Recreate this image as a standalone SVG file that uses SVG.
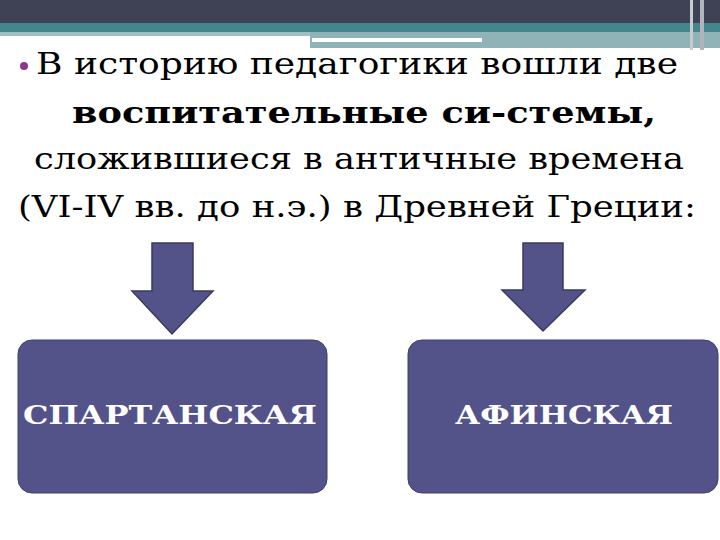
<svg xmlns="http://www.w3.org/2000/svg" width="720" height="540" viewBox="0 0 720 540">
<style>
.box{fill:#53538a;stroke:#3e3e70;stroke-width:1}
.arr{fill:#53538a;stroke:#3a3a60;stroke-width:1.5}
</style>
<rect width="720" height="540" fill="#fff"/>
<g id="header">
<rect x="0" y="0" width="720" height="23" fill="#3f4254"/>
<rect x="0" y="23" width="720" height="9" fill="#45868d"/>
<rect x="0" y="32" width="310" height="4" fill="#9fbfc2"/>
<rect x="310" y="32" width="410" height="16" fill="#8fb3b6"/>
<rect x="312" y="38" width="170" height="4" fill="#fff"/>
<rect x="690" y="0" width="3" height="50" fill="#c8ccd0"/>
<rect x="700" y="0" width="4" height="50" fill="#b0b4bc"/>
</g>
<g id="text" font-family="DejaVu Serif, Liberation Serif, serif" font-size="30" fill="#000">
<circle cx="24" cy="66" r="4" fill="#8b3a8b"/>
<text x="36" y="74" textLength="642" lengthAdjust="spacingAndGlyphs">В историю педагогики вошли две</text>
<text x="72" y="123" font-weight="bold" textLength="584" lengthAdjust="spacingAndGlyphs">воспитательные си-стемы,</text>
<text x="34" y="169" textLength="650" lengthAdjust="spacingAndGlyphs">сложившиеся в античные времена</text>
<text x="18" y="217" textLength="678" lengthAdjust="spacingAndGlyphs">(VI-IV вв. до н.э.) в Древней Греции:</text>
</g>
<g id="connectors">
<polygon class="arr" points="152,243 193,243 193,291 213,291 172,334 132,291 152,291"/>
<polygon class="arr" points="523,243 563,243 563,290 585,290 543,331 502,290 523,290"/>
</g>
<g id="sparta">
<rect class="box" x="18" y="340" width="309" height="153" rx="14"/>
<text x="170" y="424" font-family="DejaVu Serif, Liberation Serif, serif" font-size="26" font-weight="bold" fill="#fff" text-anchor="middle" textLength="294" lengthAdjust="spacingAndGlyphs">СПАРТАНСКАЯ</text>
</g>
<g id="athens">
<rect class="box" x="408" y="340" width="310" height="153" rx="14"/>
<text x="564" y="424" font-family="DejaVu Serif, Liberation Serif, serif" font-size="26" font-weight="bold" fill="#fff" text-anchor="middle" textLength="218" lengthAdjust="spacingAndGlyphs">АФИНСКАЯ</text>
</g>
</svg>
